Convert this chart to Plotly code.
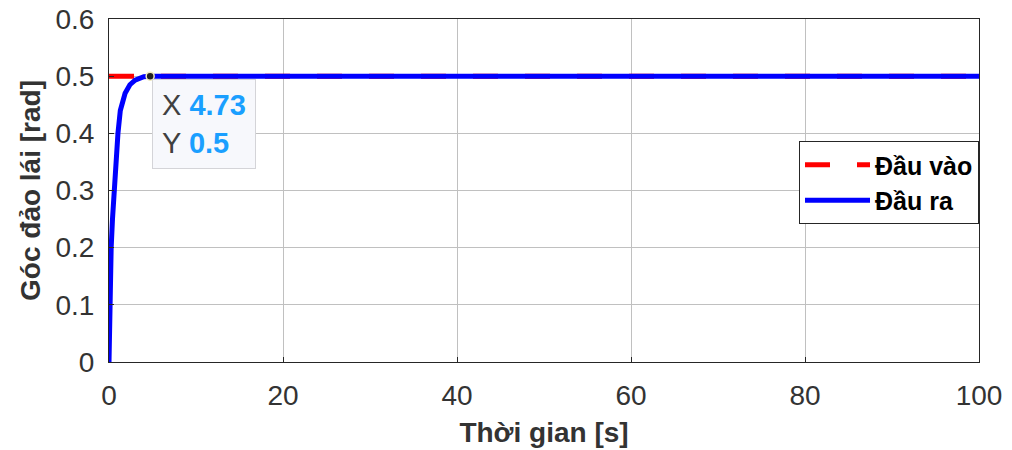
import plotly.graph_objects as go

# Data
t_in = [0, 100]
y_in = [0.5, 0.5]

t_out = [0, 0.05, 0.15, 0.25, 0.4, 0.6, 0.8, 1.03, 1.3, 1.85, 2.4, 3.0, 4.0, 4.73, 10, 50, 100]
y_out = [0, 0.06, 0.14, 0.2, 0.25, 0.3, 0.353, 0.4, 0.44, 0.47, 0.485, 0.493, 0.499, 0.5, 0.5, 0.5, 0.5]

tip_x = 4.73
tip_y = 0.5

x_ticks = [0, 20, 40, 60, 80, 100]
y_ticks = [0, 0.1, 0.2, 0.3, 0.4, 0.5, 0.6]
y_ticktext = ["0", "0.1", "0.2", "0.3", "0.4", "0.5", "0.6"]

FONT = "Liberation Sans, Arial"

fig = go.Figure()
fig.add_trace(go.Scatter(x=t_in, y=y_in, mode="lines", name="Đầu vào",
                         line=dict(color="#ff0000", width=5, dash="25px,27px")))
fig.add_trace(go.Scatter(x=t_out, y=y_out, mode="lines", name="Đầu ra",
                         line=dict(color="#0000ff", width=5)))
fig.add_trace(go.Scatter(x=[tip_x], y=[tip_y], mode="markers", showlegend=False,
                         marker=dict(color="#222222", size=8,
                                     line=dict(color="#f2ecc0", width=1.5))))

fig.add_annotation(
    x=tip_x + 0.25, y=tip_y - 0.005, xref="x", yref="y",
    xanchor="left", yanchor="top", showarrow=False, align="left",
    text="<span style='color:#404040'>X</span> <b style='color:#1a9fff'>4.73</b><br>"
         "<span style='color:#404040'>Y</span> <b style='color:#1a9fff'>0.5</b>",
    font=dict(family=FONT, size=29),
    bgcolor="#f7f8fc", bordercolor="#d4d4d8", borderwidth=1, borderpad=9,
)

axis_common = dict(
    showline=True, linecolor="#262626", linewidth=1, mirror=True,
    showgrid=True, gridcolor="#c0c0c0", gridwidth=1,
    ticks="inside", ticklen=5, tickcolor="#262626",
    tickfont=dict(family=FONT, size=28, color="#333333"),
    zeroline=False, automargin=False,
)

fig.update_xaxes(range=[0, 100], tickvals=x_ticks, ticklabelstandoff=8, **axis_common,
                 title=dict(text="<b>Thời gian [s]</b>", standoff=12,
                            font=dict(family=FONT, size=28, color="#333333")))
fig.update_yaxes(range=[0, 0.6], tickvals=y_ticks, ticktext=y_ticktext, ticklabelstandoff=8,
                 **axis_common,
                 title=dict(text="<b>Góc đảo lái [rad]</b>", standoff=6,
                            font=dict(family=FONT, size=28, color="#333333")))

fig.update_layout(
    width=1012, height=450,
    margin=dict(l=109, r=33, t=19, b=88, autoexpand=False),
    plot_bgcolor="white", paper_bgcolor="white",
    legend=dict(x=1, y=(362 - 141) / 343, xanchor="right", yanchor="top",
                bgcolor="white", bordercolor="#262626", borderwidth=1,
                font=dict(family=FONT, size=25, color="#000000", weight="bold"),
                tracegroupgap=0, itemwidth=65),
    showlegend=True,
)

fig.write_html("out.html")
